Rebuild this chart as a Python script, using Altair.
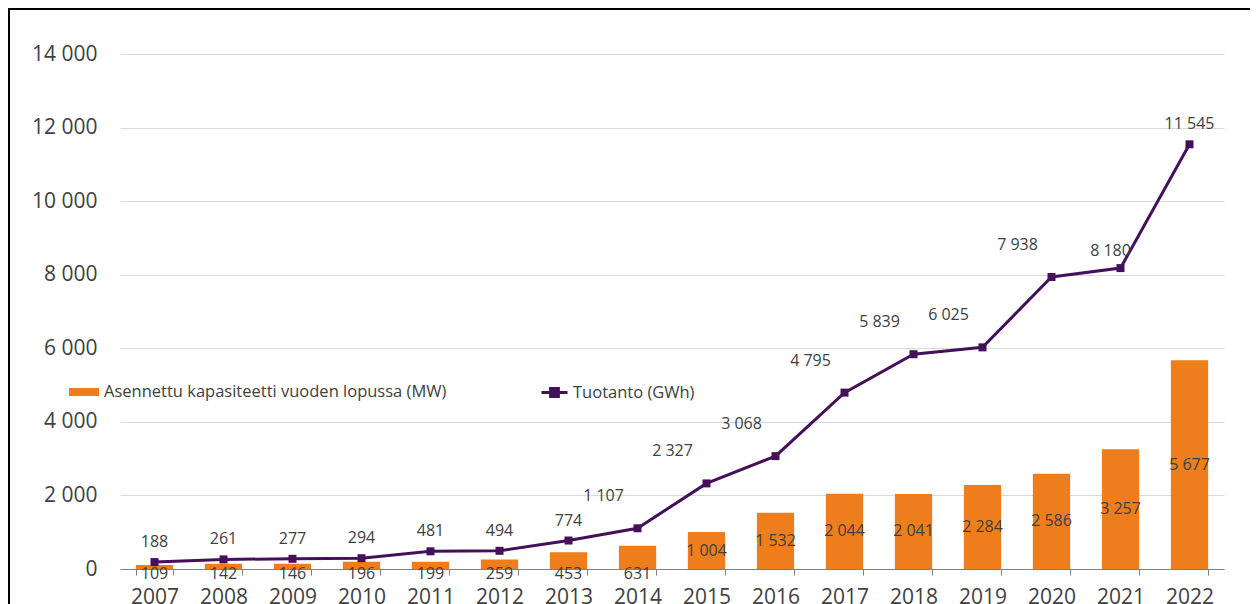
import altair as alt
import pandas as pd

years = [str(y) for y in range(2007, 2023)]
capacity = [109, 142, 146, 196, 199, 259, 453, 631, 1004, 1532, 2044, 2041, 2284, 2586, 3257, 5677]
production = [188, 261, 277, 294, 481, 494, 774, 1107, 2327, 3068, 4795, 5839, 6025, 7938, 8180, 11545]
y_ticks = [0, 2000, 4000, 6000, 8000, 10000, 12000, 14000]
cap_name = "Asennettu kapasiteetti vuoden lopussa (MW)"
prod_name = "Tuotanto (GWh)"

df = pd.DataFrame({"year": years, "cap": capacity, "prod": production})
df["cap_series"] = cap_name
df["prod_series"] = prod_name

ORANGE = "#EE7D1C"
PURPLE = "#45105A"
TXT = "#404040"
FONT = "Open Sans"

W, H = 1104, 515

xenc = alt.X("year:N", sort=years,
             scale=alt.Scale(paddingInner=0.46, paddingOuter=0.23),
             axis=alt.Axis(title=None, labelAngle=0, labelFontSize=21, labelColor=TXT,
                           labelFont=FONT, labelPadding=11, tickBand="extent", tickSize=6,
                           tickColor="#808080", domainColor="#808080", grid=False))
yscale = alt.Scale(domain=[0, 14000], nice=False)
yenc = alt.Y("cap:Q", scale=yscale,
             axis=alt.Axis(title=None, values=y_ticks, format=",d", labelFontSize=21,
                           labelColor=TXT, labelFont=FONT, labelPadding=23, domain=False,
                           ticks=False, gridColor="#D9D9D9", gridWidth=1))

base = alt.Chart(df)

bars = base.mark_bar(color=ORANGE).encode(
    x=xenc, y=yenc,
    color=alt.Color("cap_series:N", scale=alt.Scale(domain=[cap_name], range=[ORANGE]),
                    legend=alt.Legend(title=None, orient="none", legendX=-52, legendY=322,
                                      symbolType="M-1,-0.27H1V0.27H-1Z", symbolSize=900,
                                      labelOffset=4, labelFontSize=16.5, labelColor=TXT,
                                      labelFont=FONT, labelLimit=0, padding=0)),
)

bar_labels = base.transform_calculate(
    lab_y="datum.cap >= 1000 ? datum.cap / 2 : -130"
).mark_text(fontSize=16, color=TXT, font=FONT, baseline="middle").encode(
    x=alt.X("year:N", sort=years), y=alt.Y("lab_y:Q", scale=yscale),
    text=alt.Text("cap:Q", format=",d"),
)

line = base.mark_line(strokeWidth=3).encode(
    x=alt.X("year:N", sort=years), y=alt.Y("prod:Q", scale=yscale),
    stroke=alt.Stroke("prod_series:N", scale=alt.Scale(domain=[prod_name], range=[PURPLE]),
                      legend=alt.Legend(title=None, orient="none", legendX=420, legendY=324,
                                        symbolType="M-1,0H1M-0.3,-0.3H0.3V0.3H-0.3Z",
                                        symbolSize=676, symbolStrokeWidth=3,
                                        symbolFillColor=PURPLE, labelOffset=4,
                                        labelFontSize=16.5, labelColor=TXT, labelFont=FONT,
                                        labelLimit=0, padding=0)),
)

points = base.mark_point(shape="square", filled=True, size=64, color=PURPLE, opacity=1).encode(
    x=alt.X("year:N", sort=years), y=alt.Y("prod:Q", scale=yscale),
)

def prod_labels(cond, dx, dy):
    return base.transform_filter(cond).mark_text(
        fontSize=16, color=TXT, font=FONT, baseline="middle", dx=dx, dy=dy
    ).encode(
        x=alt.X("year:N", sort=years), y=alt.Y("prod:Q", scale=yscale),
        text=alt.Text("prod:Q", format=",d"),
    )

lab_a = prod_labels("datum.year <= '2013' || datum.year == '2022'", 0, -20)
lab_b = prod_labels("datum.year >= '2014' && datum.year <= '2020'", -34, -32)
lab_c = prod_labels("datum.year == '2021'", -10, -17)

frame = alt.Chart(pd.DataFrame({"k": [0]})).mark_rect(
    fill="transparent", stroke="black", strokeWidth=2
).encode(x=alt.value(-111), x2=alt.value(1200), y=alt.value(-45), y2=alt.value(700))

chart = alt.layer(frame, bars, bar_labels, line, points, lab_a, lab_b, lab_c).properties(
    width=W, height=H,
    autosize=alt.AutoSizeParams(type="none"),
    padding={"left": 112, "top": 46, "right": 26, "bottom": 60},
).resolve_scale(color="independent", stroke="independent").configure(
    locale={"number": {"decimal": ",", "thousands": " ", "grouping": [3], "currency": ["", " €"]}}
).configure_view(stroke=None).configure_text(font=FONT)

chart.save("out.html", embed_options={"renderer": "svg", "actions": False})
